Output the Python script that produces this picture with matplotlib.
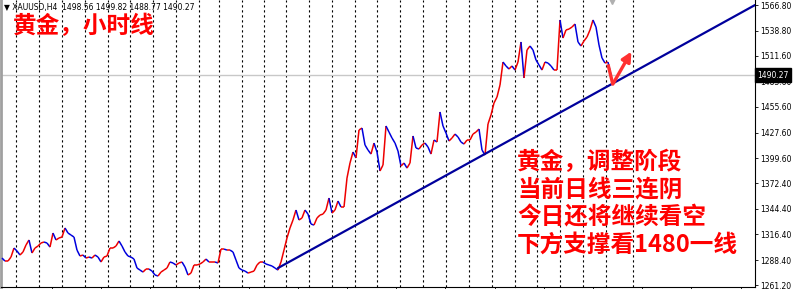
import numpy as np
import matplotlib
matplotlib.use('Agg')
from matplotlib import pyplot as plt
from matplotlib.collections import LineCollection
from matplotlib import transforms

# XAUUSD H4 closes left to right
closes = [
    1290.7, 1287.4, 1287.4, 1291.8, 1301.6, 1298.4, 1294.0, 1297.3, 1304.9, 1310.4,
    1296.2, 1301.6, 1303.8, 1307.1, 1308.2, 1307.1, 1302.7, 1318.0, 1310.4, 1312.6,
    1313.6, 1323.5, 1318.0, 1315.8, 1313.6, 1299.4, 1292.9, 1294.0, 1290.7, 1291.8,
    1290.7, 1294.0, 1291.8, 1286.4, 1291.8, 1292.9, 1301.6, 1301.6, 1303.8, 1309.3,
    1303.8, 1297.3, 1292.9, 1291.8, 1289.6, 1279.8, 1277.6, 1275.4, 1278.7, 1278.7,
    1276.5, 1272.2, 1271.1, 1275.4, 1277.6, 1279.8, 1286.4, 1285.3, 1283.1, 1285.3,
    1286.4, 1280.9, 1272.2, 1274.3, 1283.1, 1283.1, 1284.2, 1286.4, 1289.6, 1286.4,
    1286.4, 1286.4, 1285.3, 1300.5, 1300.5, 1299.4, 1299.4, 1297.3, 1288.5, 1279.8,
    1277.6, 1276.5, 1274.3, 1275.4, 1276.5, 1283.1, 1286.4, 1286.4, 1284.2, 1283.1,
    1282.0, 1279.8, 1277.6, 1286.4, 1299.4, 1312.6, 1323.5, 1332.2, 1343.1, 1332.2,
    1334.4, 1343.1, 1338.7, 1327.8, 1326.7, 1334.4, 1337.6, 1338.7, 1343.1, 1356.2,
    1339.8, 1343.1, 1352.9, 1346.4, 1346.4, 1378.0, 1394.4, 1406.4, 1399.9, 1430.4,
    1432.6, 1414.1, 1408.6, 1404.2, 1416.2, 1406.4, 1385.7, 1392.2, 1434.8, 1428.2,
    1421.7, 1416.2, 1407.5, 1391.1, 1394.4, 1388.9, 1394.4, 1423.9, 1410.8, 1409.7,
    1414.1, 1416.2, 1411.9, 1404.2, 1419.5, 1417.3, 1450.1, 1434.8, 1427.1, 1418.4,
    1421.7, 1426.0, 1422.8, 1417.3, 1415.1, 1419.5, 1419.5, 1426.0, 1428.2, 1431.5,
    1408.6, 1403.1, 1437.0, 1446.8, 1459.9, 1466.4, 1479.5, 1504.6, 1500.3, 1497.0,
    1500.3, 1495.9, 1504.6, 1526.5, 1487.2, 1517.7, 1522.1, 1517.7, 1506.8, 1501.4,
    1495.9, 1504.6, 1503.5, 1500.3, 1495.9, 1495.9, 1550.5, 1530.8, 1539.6, 1540.6,
    1542.8, 1546.1, 1526.5, 1522.1, 1527.6, 1531.9, 1539.6, 1550.5, 1542.8, 1523.2,
    1509.0, 1503.5, 1504.6, 1490.3,
]

price_ticks = [1566.80, 1538.80, 1511.60, 1483.60, 1455.60, 1427.60,
               1399.60, 1372.40, 1344.40, 1316.40, 1288.40, 1261.20]
last_price = 1490.27
header = '\u25BC XAUUSD,H4  1498.56 1499.82 1488.77 1490.27'

# day separators (bar units)
day_breaks = [4.7, 12.3, 20.0, 27.7, 35.3, 42.7, 50.3, 58.0, 65.7, 72.3, 80.0,
              87.3, 94.7, 102.3, 110.0, 117.7, 125.0, 132.7, 140.3, 148.0,
              155.7, 163.3, 171.0, 178.3, 186.0, 193.7, 201.3, 210.3]

# support trend line anchors (bar, price)
trend_x = [92.0, 251.0]
trend_y = [1279.8, 1566.8]

# red arrow: down stroke then up arrow
arrow_x = [202.0, 203.6, 209.8]
arrow_y = [1502.0, 1480.5, 1516.0]

title = '黄金，小时线'
notes = ['黄金，调整阶段', '当前日线三连阴', '今日还将继续看空', '下方支撑看1480一线']

W, H = 800, 289
fig = plt.figure(figsize=(W / 100, H / 100), dpi=100)
ax = fig.add_axes([1 / W, 2 / H, 754 / W, 287 / H])
ax.set_xlim(-0.33, 251)
ax.set_ylim(1259.1, 1572.3)

ax.spines['top'].set_visible(False)
ax.spines['left'].set_color('#a0a0a0')
ax.spines['left'].set_linewidth(2)
ax.spines['right'].set_color('black')
ax.spines['bottom'].set_color('black')
ax.spines['right'].set_linewidth(0.8)
ax.spines['bottom'].set_linewidth(0.8)

for d in day_breaks:
    ax.axvline(d, color='black', lw=0.8, ls=(0, (2, 2.5)), zorder=1)

ax.axhline(last_price, color='#c8c8c8', lw=1, zorder=1)

# price line, red on up moves, blue on down moves
xs = np.arange(len(closes))
pts = np.column_stack([xs, closes])
segs = np.stack([pts[:-1], pts[1:]], axis=1)
cols = ['#ee0000' if b >= a else '#0000dd' for a, b in zip(closes[:-1], closes[1:])]
ax.add_collection(LineCollection(segs, colors=cols, linewidths=1.1, zorder=3))

ax.plot(trend_x, trend_y, color='#00009c', lw=1.6, zorder=4, solid_capstyle='round')

ax.plot(arrow_x[:2], arrow_y[:2], color='#ff3030', lw=2.4, zorder=5, solid_capstyle='butt')
ax.annotate('', xy=(arrow_x[2], arrow_y[2]), xytext=(arrow_x[1], arrow_y[1]),
            arrowprops=dict(arrowstyle='-|>', color='#ff3030', lw=2.4,
                            mutation_scale=14, shrinkA=0, shrinkB=0), zorder=5)

ax.yaxis.tick_right()
ax.set_yticks(price_ticks)
ax.set_yticklabels(['%.2f' % p for p in price_ticks])
ax.tick_params(axis='y', labelsize=5.5, length=2, width=0.6, pad=2, colors='black')
ax.set_xticks(np.arange(16.6, 251, 16.4))
ax.tick_params(axis='x', length=3, width=0.6, labelbottom=False)

trans = transforms.blended_transform_factory(ax.transAxes, ax.transData)
ax.text(1.003, last_price, '%.2f' % last_price, transform=trans, fontsize=5.5,
        color='white', va='center', ha='left', zorder=6,
        bbox=dict(boxstyle='square,pad=0.3', fc='black', ec='black'))

# grey shift marker at top
ax.plot([203.5], [1570.8], marker='v', color='#b0b0b0', ms=5, clip_on=False)

fig.text(4 / W, 1 - 7.5 / H, header, fontsize=5.5, color='black', va='center',
         family='DejaVu Sans')

cjk = ['Noto Sans CJK SC', 'DejaVu Sans']
fig.text(13 / W, 1 - 26 / H, title, fontsize=17, color='#ff0000',
         fontweight='bold', family=cjk, va='center')
for i, line in enumerate(notes):
    fig.text(517 / W, 1 - (162 + 27.5 * i) / H, line, fontsize=17,
             color='#ff0000', fontweight='bold', family=cjk, va='center')

fig.savefig('out.png', dpi=100, facecolor='white')
